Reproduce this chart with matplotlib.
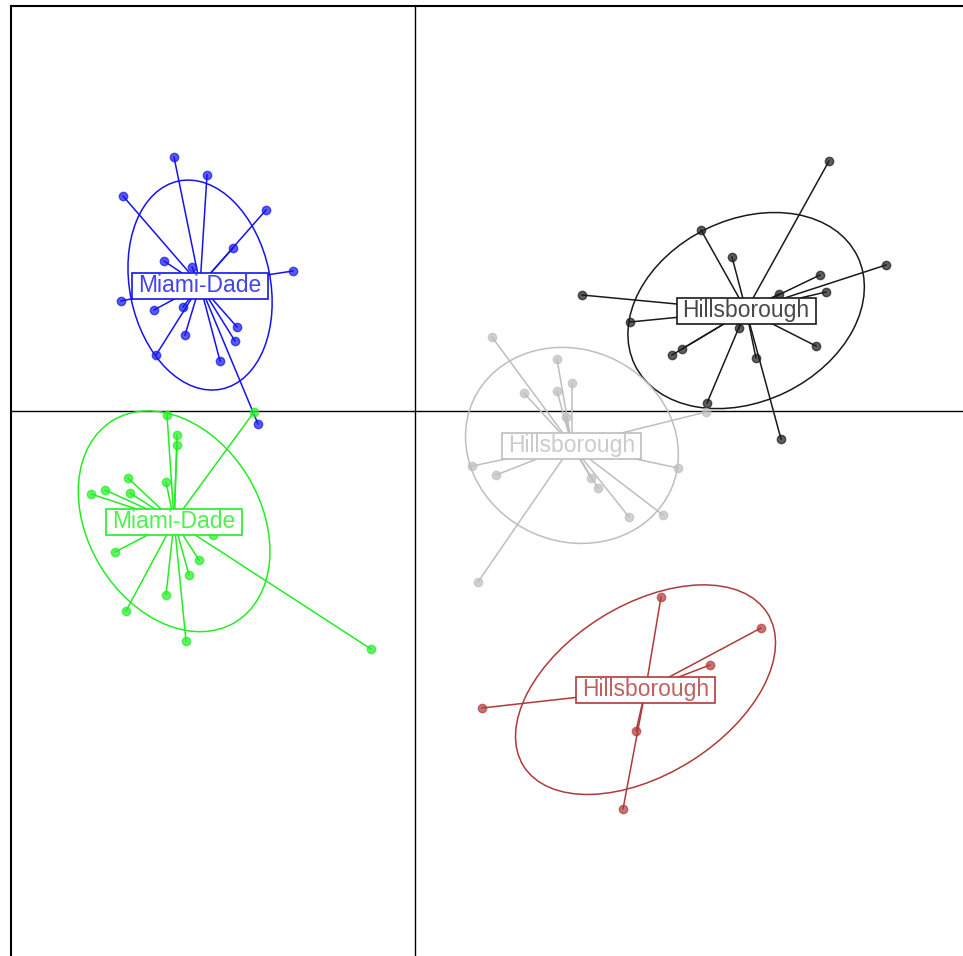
import numpy as np
import matplotlib.pyplot as plt
from matplotlib.patches import Ellipse, Rectangle

plt.rcParams['font.family'] = ['Liberation Sans', 'DejaVu Sans']

# group scores on the first two axes
black_x = [4.14, 2.86, 3.17, 4.05, 4.71, 4.11, 3.64, 1.67, 2.15, 3.24, 2.67, 2.57, 4.01, 3.41, 2.92, 3.66]
black_y = [2.50, 1.81, 1.54, 1.36, 1.46, 1.19, 1.17, 1.16, 0.89, 0.83, 0.62, 0.56, 0.65, 0.53, 0.08, -0.28]

gray_x = [0.77, 1.42, 1.57, 1.09, 1.42, 1.51, 2.91, 0.57, 0.81, 2.63, 1.76, 1.83, 2.14, 2.48, 0.63]
gray_y = [0.74, 0.52, 0.28, 0.18, 0.20, -0.06, -0.01, -0.55, -0.64, -0.57, -0.67, -0.77, -1.06, -1.04, -1.71]

red_x = [2.46, 3.46, 2.95, 0.67, 2.21, 2.08]
red_y = [-1.86, -2.17, -2.54, -2.97, -3.20, -3.98]

blue_x = [-2.41, -2.08, -2.92, -1.49, -1.82, -2.51, -2.23, -1.22, -2.94, -2.61, -2.32, -2.30, -1.78, -1.80, -2.59, -1.95, -1.57]
blue_y = [2.54, 2.36, 2.15, 2.01, 1.63, 1.50, 1.44, 1.40, 1.10, 1.01, 1.04, 0.76, 0.84, 0.70, 0.56, 0.50, -0.13]

green_x = [-2.48, -1.61, -2.38, -2.38, -2.87, -2.49, -3.24, -3.10, -2.85, -2.02, -3.00, -2.16, -2.26, -2.49, -2.89, -2.29, -0.44]
green_y = [-0.04, -0.01, -0.24, -0.34, -0.67, -0.71, -0.83, -0.79, -0.82, -1.24, -1.41, -1.49, -1.64, -1.84, -2.00, -2.30, -2.38]

labels = ['Hillsborough', 'Hillsborough', 'Hillsborough', 'Miami-Dade', 'Miami-Dade']
colors = ['#1a1a1a', '#bebebe', '#b03a3a', '#1414f0', '#22ee22']
groups = [(black_x, black_y), (gray_x, gray_y), (red_x, red_y),
          (blue_x, blue_y), (green_x, green_y)]

fig = plt.figure(figsize=(9.63, 9.56), dpi=100)
# panel starts at the top-left and runs past the right and bottom edges
ax = fig.add_axes([11 / 963, -9 / 956, 964 / 963, 959 / 956])
ax.set_xlim(-4.04, 5.60)
ax.set_ylim(-5.54, 4.05)
ax.set_aspect('equal', adjustable='box')
ax.set_xticks([])
ax.set_yticks([])
for s in ax.spines.values():
    s.set_linewidth(1.5)
ax.axhline(0, color='black', lw=1.0, zorder=1)
ax.axvline(0, color='black', lw=1.0, zorder=1)

texts = []
for (gx, gy), lab, col in zip(groups, labels, colors):
    x = np.array(gx)
    y = np.array(gy)
    mx, my = x.mean(), y.mean()
    # ellipse from the group covariance, scaled by 1.5
    cov = np.cov(np.vstack([x, y]), bias=True)
    vals, vecs = np.linalg.eigh(cov)
    ang = np.degrees(np.arctan2(vecs[1, 1], vecs[0, 1]))
    w = 2 * 1.5 * np.sqrt(vals[1])
    h = 2 * 1.5 * np.sqrt(vals[0])
    ax.add_patch(Ellipse((mx, my), w, h, angle=ang, fill=False,
                         edgecolor=col, lw=1.1, zorder=2))
    for xi, yi in zip(x, y):
        ax.plot([mx, xi], [my, yi], color=col, lw=1.1, zorder=3)
    ax.plot(x, y, 'o', ms=6, mfc=col, mec=col, alpha=0.7, mew=1.0, zorder=4)
    t = ax.text(mx, my, lab, color=col, alpha=0.8, fontsize=16.5,
                ha='center', va='center', zorder=6)
    texts.append((t, col))

# boxes drawn around the labels from their rendered size
fig.canvas.draw()
renderer = fig.canvas.get_renderer()
inv = ax.transData.inverted()
for t, col in texts:
    bb = t.get_window_extent(renderer)
    (x0, y0) = inv.transform((bb.x0 - 6, bb.y0 - 2))
    (x1, y1) = inv.transform((bb.x1 + 6, bb.y1 + 1))
    ax.add_patch(Rectangle((x0, y0), x1 - x0, y1 - y0, facecolor='white',
                           edgecolor=col, lw=1.2, zorder=5))

fig.savefig('out.png', dpi=100)
